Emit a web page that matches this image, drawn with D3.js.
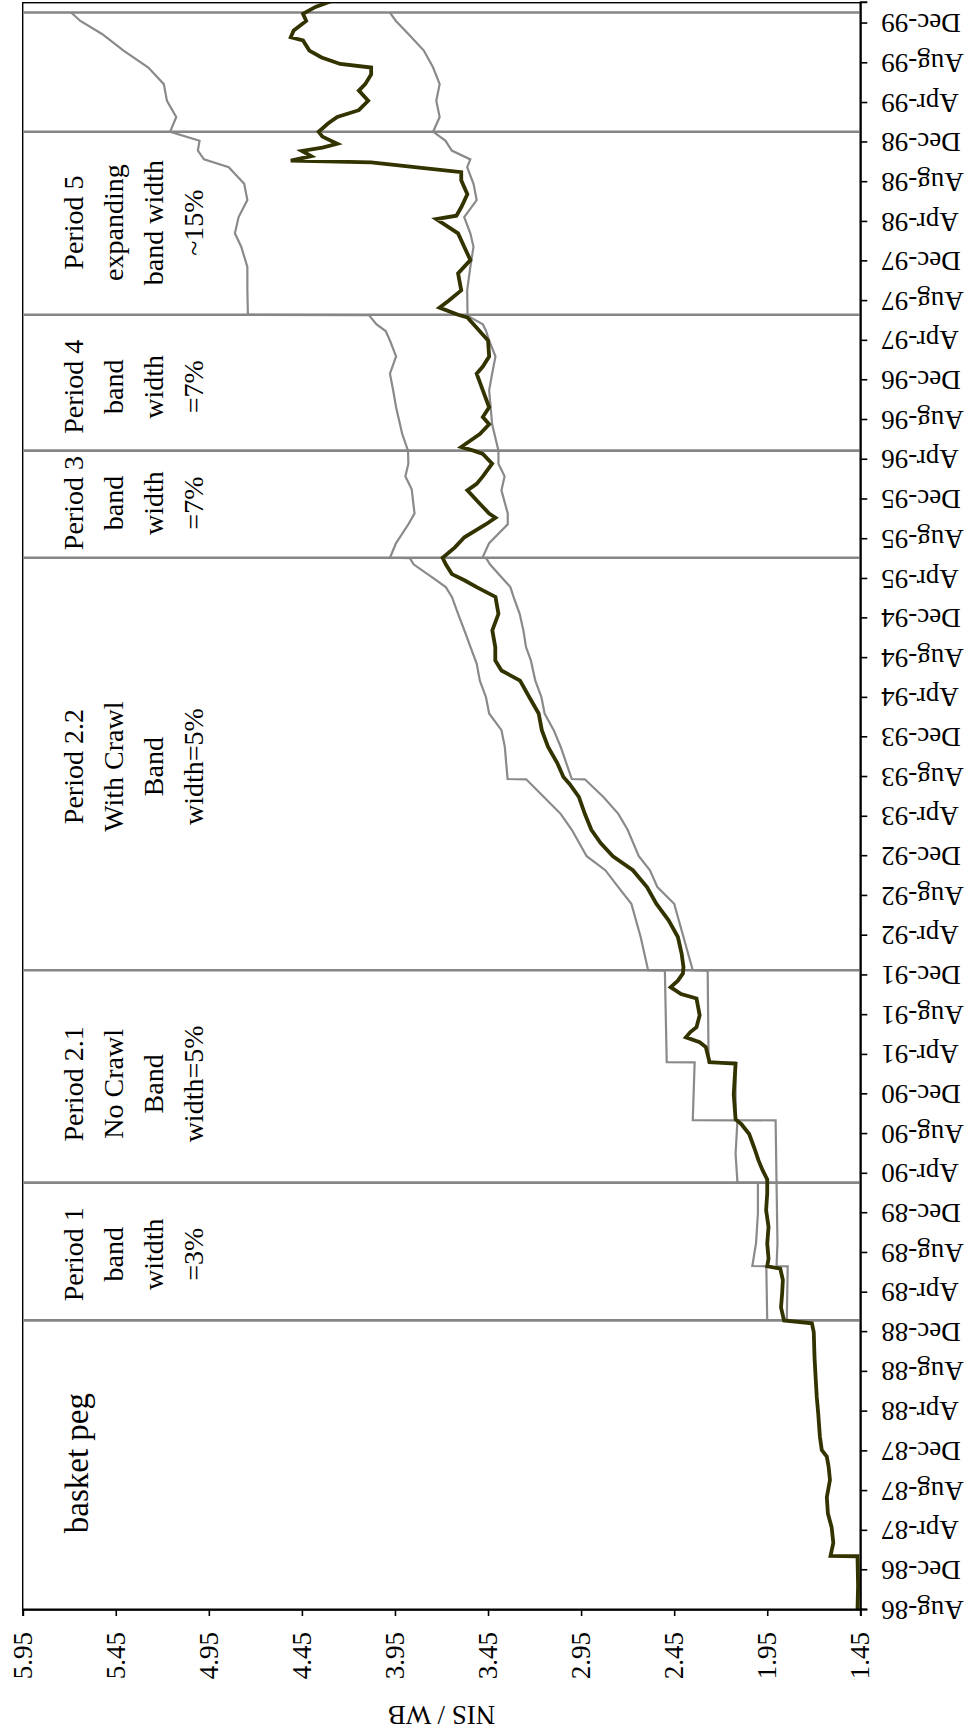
<!DOCTYPE html>
<html>
<head>
<meta charset="utf-8">
<script src="https://d3js.org/d3.v7.min.js"></script>
<style>
  body { margin: 0; background: #fff; }
  svg { display: block; }
  svg text { font-family: "Liberation Serif", "Times New Roman", "DejaVu Serif", serif; }
</style>
</head>
<body>
<svg id="chart"></svg>
<script>
// NIS per currency basket
const rate = [
  ["1986-08-01",1.465],["1986-10-15",1.462],["1987-01-13",1.465],["1987-01-14",1.61],["1987-02-23",1.595],
  ["1987-04-12",1.604],["1987-05-24",1.624],["1987-07-13",1.63],["1987-09-04",1.613],["1987-10-14",1.62],
  ["1987-11-15",1.63],["1987-12-05",1.657],["1988-01-15",1.667],["1988-03-26",1.676],["1988-05-16",1.684],
  ["1988-07-15",1.69],["1988-09-15",1.696],["1988-12-01",1.70],["1988-12-28",1.71],["1989-01-06",1.86],
  ["1989-02-15",1.876],["1989-03-29",1.87],["1989-05-10",1.866],["1989-06-14",1.88],["1989-06-21",1.95],
  ["1989-07-15",1.943],["1989-08-30",1.95],["1989-10-20",1.943],["1989-12-10",1.956],["1990-02-01",1.95],
  ["1990-03-15",1.95],["1990-04-12",1.975],["1990-05-12",1.997],["1990-06-20",2.02],["1990-08-01",2.047],
  ["1990-09-01",2.09],["1990-09-15",2.12],["1990-12-01",2.13],["1991-03-05",2.12],["1991-03-10",2.26],
  ["1991-04-25",2.28],["1991-05-10",2.313],["1991-05-25",2.387],["1991-06-10",2.363],["1991-06-25",2.33],
  ["1991-08-01",2.313],["1991-09-21",2.33],["1991-10-05",2.413],["1991-10-26",2.469],["1991-11-15",2.43],
  ["1991-12-07",2.403],["1991-12-27",2.40],["1992-02-06",2.41],["1992-03-28",2.43],["1992-05-18",2.48],
  ["1992-07-08",2.546],["1992-08-28",2.596],["1992-10-19",2.672],["1992-12-01",2.779],["1993-01-10",2.845],
  ["1993-02-20",2.895],["1993-04-10",2.93],["1993-06-01",2.962],["1993-07-11",3.012],["1993-08-01",3.045],
  ["1993-09-13",3.078],["1993-11-02",3.128],["1993-12-23",3.161],["1994-02-12",3.178],["1994-04-03",3.228],
  ["1994-05-24",3.278],["1994-06-24",3.378],["1994-07-25",3.411],["1994-09-04",3.411],["1994-10-25",3.427],
  ["1994-12-15",3.394],["1995-02-05",3.41],["1995-03-07",3.511],["1995-03-28",3.577],["1995-04-16",3.644],
  ["1995-05-16",3.677],["1995-06-05",3.694],["1995-07-07",3.628],["1995-08-07",3.577],["1995-09-16",3.461],
  ["1995-10-06",3.41],["1995-10-19",3.444],["1995-11-18",3.494],["1995-12-29",3.561],["1996-01-18",3.511],
  ["1996-02-10",3.478],["1996-03-20",3.428],["1996-04-19",3.478],["1996-04-29",3.528],["1996-05-10",3.594],
  ["1996-05-30",3.544],["1996-06-19",3.494],["1996-07-19",3.444],["1996-08-10",3.478],["1996-09-09",3.444],
  ["1996-10-31",3.478],["1996-12-21",3.511],["1997-01-12",3.478],["1997-02-12",3.444],["1997-04-02",3.45],
  ["1997-05-22",3.528],["1997-06-12",3.561],["1997-06-20",3.611],["1997-07-12",3.711],["1997-08-03",3.66],
  ["1997-09-03",3.594],["1997-10-25",3.611],["1997-12-05",3.545],["1998-01-15",3.578],["1998-02-25",3.611],
  ["1998-04-10",3.728],["1998-04-20",3.62],["1998-05-16",3.594],["1998-06-25",3.561],["1998-08-07",3.594],
  ["1998-09-01",3.594],["1998-09-16",3.844],["1998-10-01",4.078],["1998-10-06",4.51],["1998-10-20",4.40],
  ["1998-11-05",4.45],["1998-11-15",4.34],["1998-11-27",4.26],["1998-12-19",4.34],["1999-01-03",4.36],
  ["1999-01-28",4.31],["1999-02-17",4.26],["1999-03-10",4.144],["1999-04-08",4.094],["1999-05-09",4.144],
  ["1999-05-29",4.11],["1999-06-28",4.078],["1999-07-19",4.078],["1999-07-30",4.244],["1999-08-19",4.344],
  ["1999-09-09",4.41],["1999-10-10",4.444],["1999-10-20",4.51],["1999-11-10",4.494],["1999-12-09",4.427],
  ["1999-12-31",4.444],["2000-01-21",4.377],["2000-02-11",4.277]
];

const upperBand = [
  ["1989-01-06",1.95],["1989-06-21",1.955],["1989-06-22",2.03],["1989-09-01",2.01],["1989-12-01",2.0],["1990-03-04",2.0],
  ["1990-03-05",2.11],["1990-06-01",2.12],["1990-09-12",2.11],["1990-09-13",2.35],["1991-03-09",2.34],
  ["1991-03-10",2.49],["1991-12-16",2.50],["1991-12-17",2.59],["1992-03-28",2.63],["1992-07-08",2.68],
  ["1992-08-28",2.75],["1992-10-19",2.82],["1992-12-01",2.92],["1993-02-20",3.0],["1993-04-10",3.06],
  ["1993-06-01",3.15],["1993-07-25",3.245],["1993-07-26",3.345],["1993-11-02",3.36],["1993-12-23",3.378],
  ["1994-02-12",3.444],["1994-04-03",3.461],["1994-05-24",3.494],["1994-07-15",3.511],["1994-09-04",3.544],
  ["1994-10-25",3.577],["1994-12-15",3.611],["1995-02-05",3.644],["1995-03-07",3.677],["1995-03-28",3.727],
  ["1995-05-16",3.85],["1995-06-04",3.87],["1995-06-05",3.977],["1995-07-20",3.944],["1995-09-16",3.878],
  ["1995-10-19",3.845],["1996-01-01",3.86],["1996-02-10",3.894],["1996-03-20",3.878],["1996-04-29",3.88],
  ["1996-06-19",3.911],["1996-09-09",3.944],["1996-11-01",3.96],["1996-12-21",3.977],["1997-02-12",3.944],
  ["1997-04-02",3.977],["1997-05-01",4.0],["1997-05-22",4.05],["1997-06-12",4.08],["1997-06-19",4.09],
  ["1997-06-20",4.74],["1997-09-03",4.743],["1997-11-14",4.743],["1998-01-15",4.776],["1998-02-25",4.81],
  ["1998-04-16",4.79],["1998-06-07",4.743],["1998-07-27",4.76],["1998-09-16",4.843],["1998-10-10",4.976],
  ["1998-11-06",5.009],["1998-12-06",5.0],["1999-01-03",5.158],["1999-02-17",5.125],["1999-04-08",5.175],
  ["1999-05-29",5.192],["1999-07-19",5.275],["1999-09-09",5.408],["1999-10-30",5.524],["1999-12-09",5.64],
  ["2000-01-04",5.69]
];

const lowerBand = [
  ["1989-01-06",1.845],["1989-06-21",1.84],["1989-06-22",1.90],["1989-09-01",1.895],["1990-03-04",1.90],
  ["1990-09-12",1.905],["1990-09-13",2.12],["1991-03-09",2.12],["1991-03-10",2.265],["1991-12-16",2.27],
  ["1991-12-17",2.35],["1992-03-28",2.40],["1992-07-08",2.45],["1992-08-28",2.54],["1992-10-19",2.58],
  ["1992-12-01",2.64],["1993-02-20",2.70],["1993-04-10",2.75],["1993-06-01",2.83],["1993-07-25",2.93],
  ["1993-07-26",3.0],["1993-11-02",3.06],["1993-12-23",3.097],["1994-02-12",3.146],["1994-04-03",3.163],
  ["1994-05-24",3.196],["1994-07-25",3.22],["1994-09-04",3.246],["1994-10-25",3.26],["1994-12-15",3.28],
  ["1995-02-05",3.313],["1995-03-07",3.33],["1995-03-28",3.363],["1995-05-16",3.44],["1995-06-04",3.46],
  ["1995-06-05",3.48],["1995-07-20",3.444],["1995-09-16",3.344],["1995-10-19",3.344],["1995-12-29",3.378],
  ["1996-02-10",3.361],["1996-03-20",3.394],["1996-04-29",3.394],["1996-07-19",3.428],["1996-10-31",3.444],
  ["1996-12-21",3.428],["1997-02-12",3.41],["1997-04-02",3.444],["1997-05-02",3.461],["1997-05-22",3.478],
  ["1997-06-12",3.544],["1997-06-19",3.56],["1997-09-03",3.562],["1997-11-14",3.545],["1998-01-15",3.528],
  ["1998-02-25",3.545],["1998-04-16",3.578],["1998-06-07",3.511],["1998-07-27",3.528],["1998-09-16",3.562],
  ["1998-10-10",3.545],["1998-11-06",3.645],["1998-12-06",3.678],["1999-01-03",3.745],["1999-02-17",3.71],
  ["1999-04-08",3.728],["1999-05-29",3.71],["1999-07-19",3.745],["1999-09-09",3.795],["1999-10-30",3.878],
  ["1999-12-09",3.945],["2000-01-04",3.978]
];

// regime changes (vertical separators)
const periodBreaks = ["1989-01-06","1990-03-05","1991-12-17","1995-06-05","1996-04-29","1997-06-20","1999-01-03","2000-01-04"];

// text notes: centre date and lines
const periodNotes = [
  {at: "1987-10-26", lines: ["basket peg"], big: true},
  {at: "1989-07-28", lines: ["Period 1", "band", "witdth", "=3%"]},
  {at: "1991-01-02", lines: ["Period 2.1", "No Crawl", "Band", "width=5%"]},
  {at: "1993-09-02", lines: ["Period 2.2", "With Crawl", "Band", "width=5%"]},
  {at: "1995-11-20", lines: ["Period 3", "band", "width", "=7%"]},
  {at: "1996-11-11", lines: ["Period 4", "band", "width", "=7%"]},
  {at: "1998-03-30", lines: ["Period 5", "expanding", "band width", "~15%"]}
];

const valueTicks = [1.45, 1.95, 2.45, 2.95, 3.45, 3.95, 4.45, 4.95, 5.45, 5.95];
const dateStart = "1986-08-01", dateEnd = "2000-02-03", lastTick = "1999-12-01";

// page is the chart turned a quarter turn anticlockwise
const pageW = 971, pageH = 1734;
const plot = {left: 124, right: 1731.3, top: 22.7, bottom: 860.3};
const serif = "'Liberation Serif', 'Times New Roman', 'DejaVu Serif', serif";

const parse = d3.timeParse("%Y-%m-%d");

const svg = d3.select("#chart")
  .attr("width", pageW)
  .attr("height", pageH);

const g = svg.append("g")
  .attr("transform", `translate(0,${pageH}) rotate(-90)`)
  .attr("font-family", serif);

const x = d3.scaleTime()
  .domain([parse(dateStart), parse(dateEnd)])
  .range([plot.left, plot.right]);

const y = d3.scaleLinear()
  .domain([1.45, 5.95])
  .range([plot.bottom, plot.top]);

// a tick every 4 months, starting at Aug-86
const dateTicks = d3.timeMonth.range(parse(dateStart), d3.timeDay.offset(parse(lastTick), 1), 4);

g.append("defs").append("clipPath").attr("id", "clip")
  .append("rect")
  .attr("x", plot.left).attr("y", plot.top)
  .attr("width", plot.right - plot.left).attr("height", plot.bottom - plot.top);

// frame
g.append("rect")
  .attr("x", plot.left).attr("y", plot.top)
  .attr("width", plot.right - plot.left).attr("height", plot.bottom - plot.top)
  .attr("fill", "none")
  .attr("stroke", "#000")
  .attr("stroke-width", 1.4);

const line = d3.line()
  .x(d => x(parse(d[0])))
  .y(d => y(d[1]));

const marks = g.append("g").attr("clip-path", "url(#clip)");

marks.selectAll(".band")
  .data([upperBand, lowerBand])
  .join("path")
    .attr("class", "band")
    .attr("d", line)
    .attr("fill", "none")
    .attr("stroke", "#8a8a8a")
    .attr("stroke-width", 2.2);

marks.selectAll(".brk")
  .data(periodBreaks)
  .join("line")
    .attr("class", "brk")
    .attr("x1", d => x(parse(d))).attr("x2", d => x(parse(d)))
    .attr("y1", y(5.95)).attr("y2", y(1.45))
    .attr("stroke", "#868686")
    .attr("stroke-width", 2.6);

marks.append("path")
  .datum(rate)
  .attr("d", line)
  .attr("fill", "none")
  .attr("stroke", "#333300")
  .attr("stroke-width", 3.8);

// value axis
const yAxis = g.append("g")
  .attr("transform", `translate(${plot.left},0)`)
  .call(d3.axisLeft(y).tickValues(valueTicks).tickFormat(d3.format(".2f")).tickSize(6).tickPadding(16));

// date axis
const xAxis = g.append("g")
  .attr("transform", `translate(0,${plot.bottom})`)
  .call(d3.axisBottom(x).tickValues(dateTicks).tickFormat(d3.timeFormat("%b-%y")).tickSize(7));

xAxis.selectAll("text")
  .attr("transform", "rotate(-90)")
  .attr("x", -21)
  .attr("y", 0)
  .attr("dy", "0.33em")
  .attr("text-anchor", "end");

[yAxis, xAxis].forEach(a => {
  a.attr("font-family", serif).attr("font-size", 27);
  a.select(".domain").attr("stroke", "#000").attr("stroke-width", 2);
  a.selectAll(".tick line").attr("stroke", "#000").attr("stroke-width", 1.6);
  a.selectAll("text").attr("fill", "#000");
});

// axis title
g.append("text")
  .attr("transform", `translate(28,${(plot.top + plot.bottom) / 2}) rotate(-90)`)
  .attr("text-anchor", "middle")
  .attr("font-size", 27)
  .text("NIS / WB");

// period notes
const notes = g.append("g")
  .selectAll("text")
  .data(periodNotes)
  .join("text")
    .attr("text-anchor", "middle")
    .attr("font-size", d => d.big ? 33 : 28);

notes.selectAll("tspan")
  .data(d => d.lines.map((t, i) => ({t, i, d})))
  .join("tspan")
    .attr("x", d => x(parse(d.d.at)))
    .attr("y", d => (d.d.big ? 88 : 83) + d.i * 40)
    .text(d => d.t);
</script>
</body>
</html>
